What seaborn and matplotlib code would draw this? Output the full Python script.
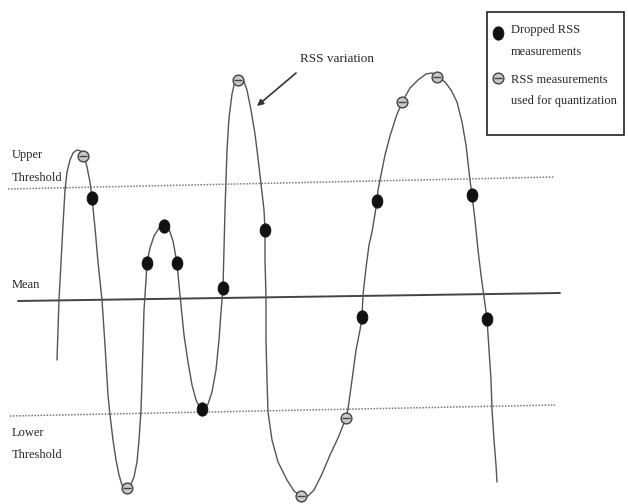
import numpy as np
import pandas as pd
import matplotlib
matplotlib.use("Agg")
import matplotlib.pyplot as plt
from matplotlib.path import Path
from matplotlib.patches import Rectangle
import seaborn as sns

# RSS curve (x to the right, y downwards, pixels)
curve_x = [57, 58, 59, 61, 63, 65, 67, 70, 73, 77, 81, 84, 87, 90, 92, 95, 98, 102, 105, 108,
           110, 113, 116, 119, 122, 126, 130, 134, 137, 139, 141, 142, 143, 144, 146, 147, 150, 154, 159, 164,
           169, 173, 177, 179, 181, 184, 188, 192, 196, 200, 204, 208, 212, 216, 219, 221, 223, 224, 225, 226,
           227, 229, 232, 235, 239, 243, 247, 251, 255, 258, 261, 264, 265, 265, 266, 266, 267, 268, 272, 278,
           287, 294, 301, 308, 314, 322, 330, 338, 346, 348, 352, 356, 360, 362, 363, 366, 369, 372, 375, 377,
           378, 380, 385, 390, 396, 402, 410, 418, 426, 432, 438, 445, 451, 457, 462, 466, 470, 472, 475, 478,
           481, 484, 487, 489, 491, 492, 494, 496, 497]
curve_y = [360, 330, 300, 262, 225, 190, 172, 160, 153, 150, 151, 156, 167, 182, 198, 228, 262, 300, 345, 395,
           415, 440, 460, 475, 485, 489, 486, 477, 462, 440, 410, 380, 345, 310, 280, 263, 248, 236, 228, 226,
           229, 241, 263, 285, 305, 335, 362, 385, 400, 408, 409, 404, 392, 370, 340, 312, 288, 250, 210, 180,
           150, 118, 94, 81, 76, 79, 90, 110, 134, 158, 184, 210, 230, 260, 297, 340, 380, 412, 440, 462,
           480, 491, 496, 496, 490, 474, 455, 438, 418, 409, 380, 350, 330, 317, 295, 268, 245, 232, 214, 201,
           190, 180, 155, 136, 117, 102, 88, 80, 74, 73, 76, 82, 90, 102, 122, 145, 180, 195, 220, 250,
           275, 297, 319, 350, 380, 409, 440, 465, 482]

# dropped samples (filled) and samples used for quantization (open)
dropped_x = [92, 147, 164, 177, 202, 223, 265, 362, 377, 472, 487]
dropped_y = [198, 263, 226, 263, 409, 288, 230, 317, 201, 195, 319]
used_x = [83, 127, 238, 301, 346, 402, 437]
used_y = [156, 488, 80, 496, 418, 102, 77]

# reference lines (ends)
upper_x, upper_y = [8, 555], [189, 177]
mean_x, mean_y = [18, 560], [301, 293]
lower_x, lower_y = [10, 555], [416, 405]

sns.set_style("white")
plt.rcParams["font.family"] = ["Liberation Serif", "DejaVu Serif"]

fig, ax = plt.subplots(figsize=(6.28, 5.04), dpi=100)
ax.set_position([0, 0, 1, 1])

sns.lineplot(x=upper_x, y=upper_y, ax=ax, color="#777777", linewidth=1.1, linestyle=(0, (1, 1)))
sns.lineplot(x=lower_x, y=lower_y, ax=ax, color="#777777", linewidth=1.1, linestyle=(0, (1, 1)))
sns.lineplot(x=mean_x, y=mean_y, ax=ax, color="#444444", linewidth=1.4)

df = pd.DataFrame({"x": curve_x, "y": curve_y})
sns.lineplot(data=df, x="x", y="y", sort=False, estimator=None, ax=ax,
             color="#555555", linewidth=1.0)

circ = Path.unit_circle()
oval = Path(circ.vertices * np.array([0.8, 1.0]), circ.codes)

sns.scatterplot(x=dropped_x, y=dropped_y, ax=ax, marker=oval, s=90,
                color="#111111", edgecolor="#111111", zorder=5)
sns.scatterplot(x=used_x, y=used_y, ax=ax, marker="o", s=60,
                color="#c8c8c8", edgecolor="#444444", linewidth=1.0, zorder=5)
sns.scatterplot(x=used_x, y=used_y, ax=ax, marker="_", s=30,
                color="#444444", linewidth=1.0, zorder=6)

fs = 9
ax.text(12, 155, "Upper", fontsize=fs, va="center")
ax.text(12, 178, "Threshold", fontsize=fs, va="center")
ax.text(12, 285, "Mean", fontsize=fs, va="center")
ax.text(12, 433, "Lower", fontsize=fs, va="center")
ax.text(12, 455, "Threshold", fontsize=fs, va="center")

ax.annotate("", xy=(257, 106), xytext=(296, 73),
            arrowprops=dict(arrowstyle="-|>", color="#333333", lw=1.2,
                            mutation_scale=9, shrinkA=0, shrinkB=0))
ax.text(300, 59, "RSS variation", fontsize=9.5, va="center")

# legend box
ax.add_patch(Rectangle((487, 12), 137, 123, fill=False, edgecolor="#222222", linewidth=1.2, zorder=4))
sns.scatterplot(x=[498], y=[33], ax=ax, marker=oval, s=90, color="#111111",
                edgecolor="#111111", zorder=5)
sns.scatterplot(x=[498], y=[78], ax=ax, marker="o", s=60, color="#c8c8c8",
                edgecolor="#444444", linewidth=1.0, zorder=5)
sns.scatterplot(x=[498], y=[78], ax=ax, marker="_", s=30, color="#444444",
                linewidth=1.0, zorder=6)
ax.text(511, 30, "Dropped RSS", fontsize=fs, va="center")
ax.text(511, 52, "measurements", fontsize=fs, va="center")
ax.text(511, 80, "RSS measurements", fontsize=fs, va="center")
ax.text(511, 101, "used for quantization", fontsize=fs, va="center")

ax.set_xlim(0, 628)
ax.set_ylim(504, 0)
ax.axis("off")
if ax.get_legend() is not None:
    ax.get_legend().remove()

fig.savefig("out.png", dpi=100)
